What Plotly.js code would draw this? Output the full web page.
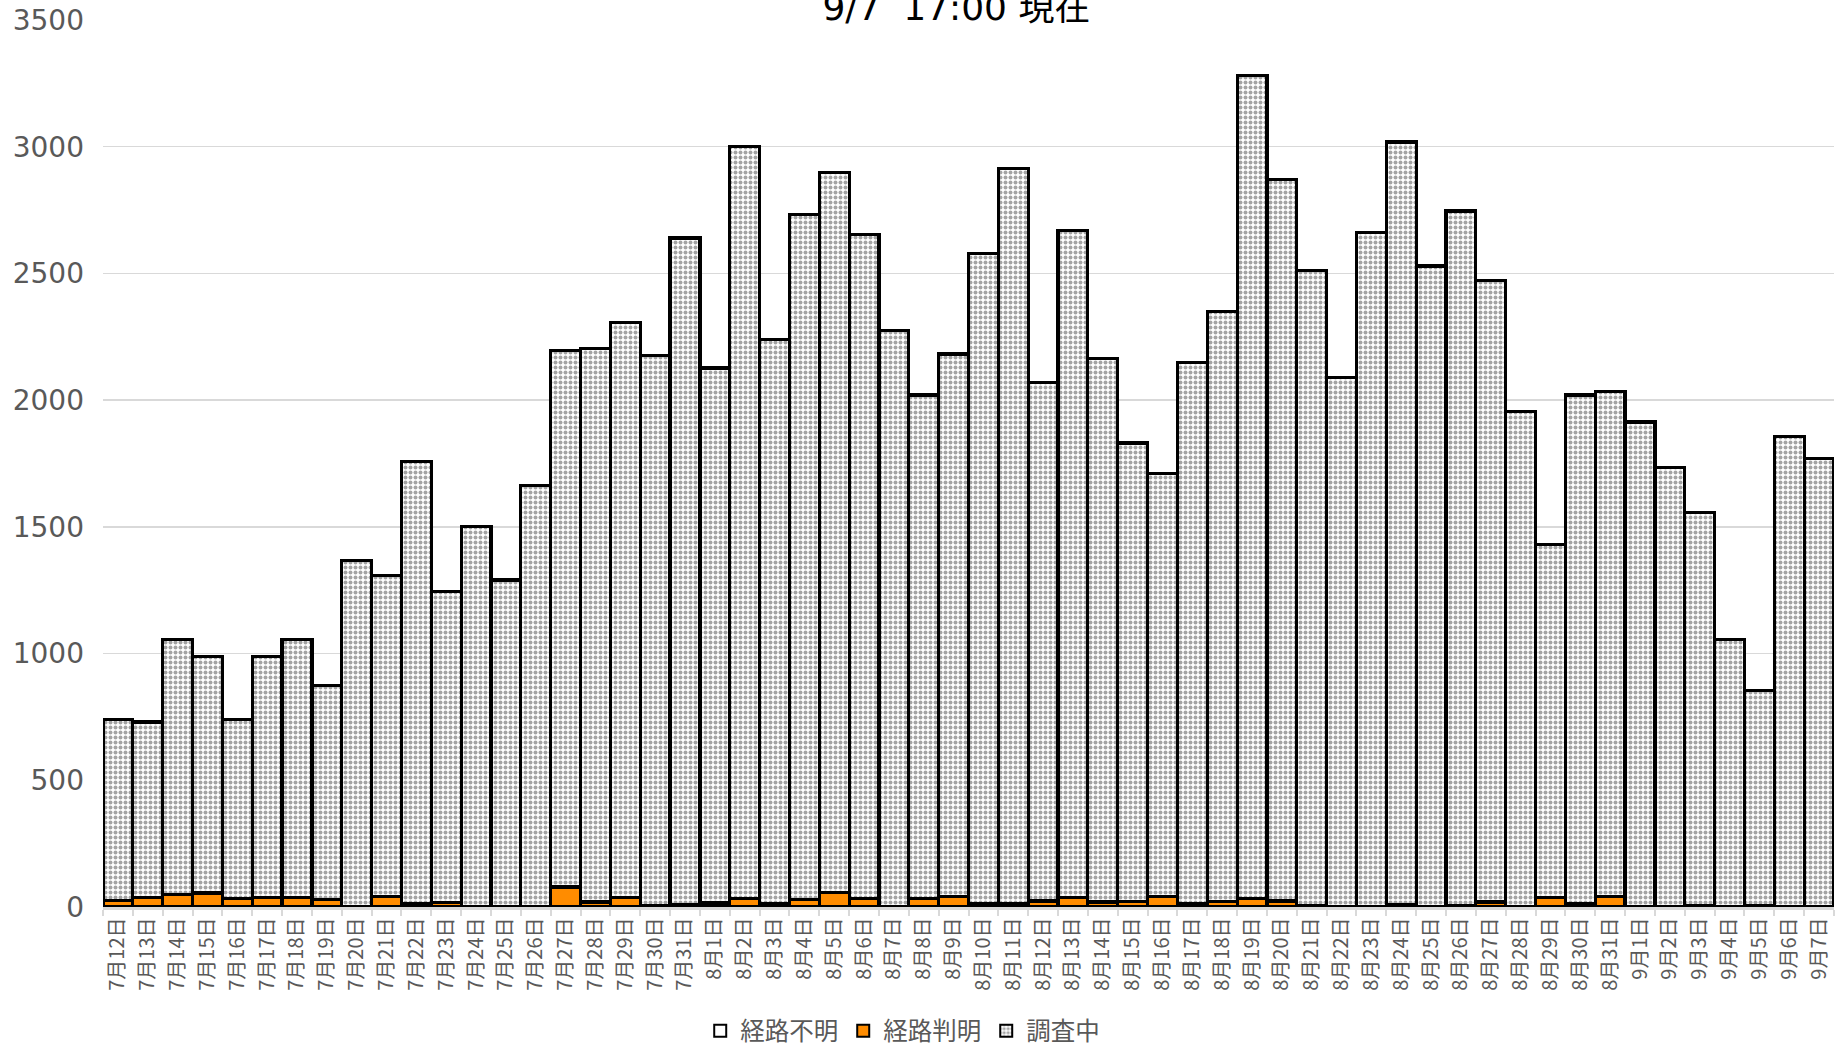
<!DOCTYPE html>
<html>
<head>
<meta charset="utf-8">
<script src="https://cdn.plot.ly/plotly-3.0.1.min.js"></script>
<style>html,body{margin:0;padding:0;background:#fff;}#chart{width:1836px;height:1047px;}</style>
</head>
<body>
<div id="chart"></div>
<script>
const dates = ["7月12日","7月13日","7月14日","7月15日","7月16日","7月17日","7月18日","7月19日","7月20日","7月21日","7月22日","7月23日","7月24日","7月25日","7月26日","7月27日","7月28日","7月29日","7月30日","7月31日",
"8月1日","8月2日","8月3日","8月4日","8月5日","8月6日","8月7日","8月8日","8月9日","8月10日","8月11日","8月12日","8月13日","8月14日","8月15日","8月16日","8月17日","8月18日","8月19日","8月20日","8月21日","8月22日","8月23日","8月24日","8月25日","8月26日","8月27日","8月28日","8月29日","8月30日","8月31日",
"9月1日","9月2日","9月3日","9月4日","9月5日","9月6日","9月7日"];

// 経路判明 (known route)
const known = [26,38,50,55,33,39,36,29,0,41,13,17,3,3,3,79,20,39,5,8,
16,33,13,30,58,32,0,32,40,14,14,24,39,20,22,42,13,21,32,24,5,0,0,10,0,7,20,0,39,12,42,
0,0,4,3,7,0,0];

// 調査中 (under investigation)
const investigating = [714,692,1004,934,707,951,1018,845,1368,1267,1744,1227,1499,1287,1661,2117,2185,2268,2172,2632,
2111,2967,2225,2702,2841,2622,2275,1988,2142,2566,2899,2047,2629,2144,1809,1669,2137,2328,3250,2847,2505,2090,2663,3009,2529,2739,2453,1956,1390,2008,1992,
1914,1734,1554,1051,848,1858,1771];

// 経路不明 (unknown route) - nothing visible in the picture
const unknown = [0,0,0,0,0,0,0,0,0,0,0,0,0,0,0,0,0,0,0,0,
0,0,0,0,0,0,0,0,0,0,0,0,0,0,0,0,0,0,0,0,0,0,0,0,0,0,0,0,0,0,0,
0,0,0,0,0,0,0];

const yTicks = [0,500,1000,1500,2000,2500,3000,3500];

const traces = [
  {
    type: 'bar', name: '経路判明', x: dates, y: known,
    marker: {color: '#ff8c00', line: {color: '#000', width: 3.2}},
    legendrank: 2
  },
  {
    type: 'bar', name: '調査中', x: dates, y: investigating,
    marker: {
      color: '#ffffff',
      line: {color: '#000', width: 3.2},
      pattern: {shape: '.', size: 5, solidity: 0.5, fgcolor: '#a3a3a3', bgcolor: '#ffffff', fillmode: 'replace'}
    },
    legendrank: 3
  },
  {
    type: 'bar', name: '経路不明', x: dates, y: unknown,
    marker: {color: '#ffffff', line: {color: '#000', width: 1}},
    legendrank: 1
  }
];

const layout = {
  width: 1836, height: 1047,
  barmode: 'stack', bargap: 0,
  paper_bgcolor: '#fff', plot_bgcolor: '#fff',
  margin: {l: 103, r: 2, t: 20, b: 140},
  title: {
    text: '9/7\u00a0\u00a017:00 現在',
    font: {family: 'DejaVu Sans, "Noto Sans CJK JP", sans-serif', size: 36, color: '#000'},
    xref: 'paper', x: 0.493, xanchor: 'center',
    yref: 'container', y: 0.981, yanchor: 'bottom'
  },
  showlegend: true,
  legend: {
    orientation: 'h', x: 0.462, xanchor: 'center',
    yref: 'container', y: 0.0155, yanchor: 'middle',
    traceorder: 'normal',
    font: {family: '"Noto Sans CJK JP", sans-serif', size: 24.5, color: '#595959'},
    itemwidth: 30, itemsizing: 'constant', tracegroupgap: 0
  },
  xaxis: {
    type: 'category',
    tickangle: -90,
    tickfont: {family: '"Noto Sans CJK JP", sans-serif', size: 20, color: '#595959'},
    ticks: 'outside', tickson: 'boundaries', ticklen: 6, tickwidth: 2, tickcolor: '#d9d9d9',
    showline: true, linecolor: '#d9d9d9', linewidth: 2.5,
    showgrid: false, fixedrange: true
  },
  yaxis: {
    range: [0, 3500],
    tickvals: yTicks,
    ticktext: yTicks.map(String),
    tickfont: {family: 'DejaVu Sans, sans-serif', size: 28, color: '#595959'},
    showgrid: true, gridcolor: '#d9d9d9', gridwidth: 1.5,
    zeroline: false, showline: false,
    ticks: '', ticklabelstandoff: 18, fixedrange: true
  }
};

Plotly.newPlot('chart', traces, layout, {displayModeBar: false, staticPlot: true});
</script>
</body>
</html>
